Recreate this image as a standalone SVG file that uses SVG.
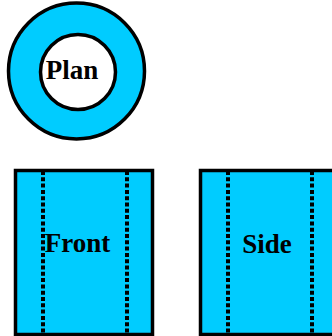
<svg xmlns="http://www.w3.org/2000/svg" width="332" height="336" viewBox="0 0 332 336">
<style>
.b{fill:#00ccff;stroke:#000;stroke-width:3.500}
.h{fill:#fff;stroke:#000;stroke-width:3.500}
.d{fill:none;stroke:#000;stroke-width:4;stroke-dasharray:4 2.300}
.t{font-family:"Liberation Serif","Times New Roman",serif;font-weight:bold;font-size:27px;fill:#000;text-anchor:middle}
</style>
<g id="plan">
<circle class="b" cx="76.500" cy="71" r="68"/>
<circle class="h" cx="78" cy="72" r="37.500"/>
<text class="t" x="72" y="79">Plan</text>
</g>
<g id="front">
<rect class="b" x="15.500" y="170.500" width="137" height="164"/>
<path class="d" d="M43 171V334M127 171V334"/>
<text class="t" x="77.500" y="252">Front</text>
</g>
<g id="side">
<rect class="b" x="200.500" y="170.500" width="137" height="164"/>
<path class="d" d="M228 171V334M312 171V334"/>
<text class="t" x="267" y="253">Side</text>
</g>
</svg>
